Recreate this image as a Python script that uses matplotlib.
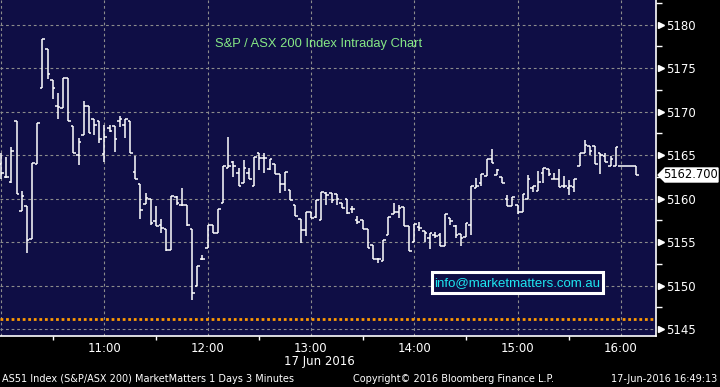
import numpy as np
import matplotlib
matplotlib.use('Agg')
import matplotlib.pyplot as plt
from matplotlib.patches import Polygon, Rectangle

# 3-minute OHLC bars for AS51, 17 Jun 2016, starting 10:00
opens = [5164.0, 5162.5, 5161.9, 5168.9, 5158.6, 5159.2, 5155.4, 5164.0, 5172.7, 5177.2,
         5173.6, 5170.7, 5170.4, 5173.9, 5168.3, 5165.0, 5167.3, 5170.6, 5169.2, 5168.9,
         5165.1, 5168.1, 5168.4, 5168.9, 5168.5, 5168.9, 5163.1, 5161.7, 5159.4, 5159.9,
         5157.4, 5157.0, 5156.5, 5154.1, 5160.2, 5159.3, 5159.3, 5156.5, 5149.9, 5153.0,
         5154.3, 5157.0, 5156.1, 5159.5, 5163.5, 5164.2, 5162.9, 5161.8, 5162.9, 5161.4,
         5165.2, 5164.7, 5163.4, 5164.0, 5162.8, 5161.7, 5161.0, 5159.3, 5157.6, 5156.4,
         5158.5, 5157.9, 5157.5, 5160.6, 5160.6, 5160.5, 5159.5, 5159.9, 5158.8, 5157.5,
         5157.5, 5156.5, 5154.7, 5153.0, 5152.8, 5155.8, 5158.2, 5158.5, 5159.0, 5156.9,
         5155.0, 5156.7, 5156.3, 5155.5, 5155.8, 5155.8, 5154.6, 5157.8, 5156.9, 5155.9,
         5155.6, 5157.0, 5161.2, 5161.8, 5162.6, 5164.5, 5162.7, 5162.5, 5159.9, 5159.1,
         5159.3, 5158.5, 5160.0, 5161.2, 5160.9, 5163.0, 5163.4, 5162.2, 5162.2, 5161.4,
         5161.2, 5161.3, 5163.8, 5165.2, 5166.0, 5166.0, 5165.2, 5164.9, 5163.7, 5163.7,
         5163.7, 5163.7, 5163.7, 5163.7]
highs = [5165.2, 5164.8, 5165.9, 5168.9, 5160.9, 5159.2, 5164.1, 5168.7, 5178.3, 5177.2,
         5173.6, 5172.2, 5173.9, 5173.9, 5168.3, 5167.0, 5171.2, 5170.6, 5169.2, 5168.9,
         5168.5, 5168.5, 5168.4, 5169.5, 5169.2, 5168.9, 5164.9, 5161.7, 5160.6, 5159.9,
         5159.1, 5157.7, 5156.5, 5160.3, 5160.3, 5161.2, 5159.3, 5156.5, 5152.3, 5153.5,
         5157.0, 5157.0, 5158.8, 5163.7, 5167.1, 5164.3, 5163.5, 5164.4, 5163.5, 5164.8,
         5165.2, 5165.2, 5164.5, 5164.0, 5162.8, 5163.1, 5161.0, 5159.3, 5157.6, 5158.5,
         5158.5, 5159.8, 5160.8, 5160.8, 5160.6, 5160.5, 5159.5, 5160.0, 5159.2, 5158.0,
         5157.5, 5156.5, 5154.7, 5153.2, 5155.2, 5157.9, 5159.5, 5159.3, 5159.0, 5156.9,
         5157.1, 5157.3, 5156.3, 5156.0, 5156.2, 5156.0, 5158.2, 5157.8, 5157.0, 5155.9,
         5157.2, 5161.4, 5162.4, 5162.8, 5164.5, 5165.7, 5163.4, 5162.5, 5160.4, 5160.2,
         5159.3, 5160.5, 5162.7, 5161.4, 5163.2, 5163.5, 5163.4, 5162.9, 5163.4, 5162.6,
         5162.1, 5162.2, 5165.2, 5166.7, 5166.0, 5166.0, 5165.2, 5165.2, 5164.9, 5165.9,
         5163.7, 5163.7, 5163.7, 5163.7]
lows = [5162.2, 5162.4, 5161.8, 5160.5, 5158.6, 5153.8, 5155.4, 5164.0, 5172.7, 5173.8,
        5171.5, 5169.1, 5170.4, 5168.9, 5165.2, 5163.9, 5167.3, 5167.6, 5167.3, 5166.4,
        5164.2, 5167.7, 5165.4, 5168.2, 5167.0, 5165.2, 5162.3, 5157.7, 5159.4, 5157.0,
        5156.9, 5156.0, 5154.0, 5154.1, 5159.3, 5159.1, 5156.9, 5148.3, 5149.9, 5152.9,
        5154.3, 5156.1, 5156.1, 5159.5, 5163.5, 5162.5, 5161.4, 5161.8, 5162.2, 5161.4,
        5163.3, 5163.0, 5163.3, 5162.8, 5160.7, 5160.9, 5159.8, 5158.0, 5154.9, 5155.7,
        5157.8, 5157.8, 5157.5, 5159.3, 5159.5, 5159.3, 5158.9, 5158.2, 5158.3, 5157.1,
        5156.5, 5154.3, 5153.0, 5152.6, 5152.8, 5155.8, 5158.2, 5157.8, 5156.9, 5154.0,
        5155.0, 5156.3, 5155.0, 5154.2, 5155.5, 5154.6, 5154.6, 5157.0, 5155.5, 5154.5,
        5155.6, 5155.8, 5161.2, 5161.4, 5162.6, 5164.1, 5162.7, 5161.8, 5159.1, 5159.1,
        5158.2, 5158.5, 5160.0, 5160.8, 5160.9, 5161.8, 5162.6, 5162.2, 5161.3, 5161.2,
        5160.4, 5160.8, 5163.8, 5165.2, 5165.0, 5164.0, 5162.8, 5164.2, 5163.7, 5163.7,
        5163.7, 5163.7, 5163.7, 5162.7]
closes = [5163.0, 5162.5, 5165.5, 5160.5, 5160.3, 5155.2, 5164.1, 5168.7, 5178.3, 5174.3,
          5172.7, 5170.5, 5173.9, 5168.9, 5165.2, 5166.5, 5170.6, 5167.6, 5168.5, 5166.9,
          5167.1, 5167.8, 5166.9, 5169.2, 5169.2, 5165.2, 5162.3, 5158.7, 5160.1, 5157.2,
          5156.9, 5156.6, 5154.1, 5160.3, 5159.5, 5159.3, 5157.0, 5149.1, 5152.3, 5153.1,
          5157.0, 5156.1, 5158.8, 5163.7, 5163.8, 5163.8, 5161.4, 5163.5, 5162.2, 5164.8,
          5164.7, 5164.7, 5164.5, 5162.8, 5161.7, 5163.1, 5159.8, 5158.0, 5156.4, 5158.5,
          5157.8, 5159.8, 5160.8, 5160.4, 5159.8, 5159.9, 5158.9, 5158.3, 5158.8, 5157.3,
          5156.5, 5154.3, 5153.0, 5153.1, 5155.2, 5157.9, 5158.5, 5158.9, 5156.9, 5154.0,
          5157.1, 5156.6, 5156.0, 5156.0, 5155.7, 5154.6, 5158.2, 5157.4, 5155.8, 5155.5,
          5157.2, 5161.4, 5161.4, 5162.8, 5164.5, 5164.1, 5163.3, 5161.8, 5159.1, 5160.2,
          5158.5, 5160.5, 5162.2, 5161.4, 5161.9, 5163.5, 5162.8, 5162.2, 5161.3, 5161.4,
          5161.5, 5162.2, 5165.2, 5166.2, 5165.5, 5164.0, 5165.0, 5164.2, 5164.5, 5165.9,
          5163.7, 5163.7, 5163.7, 5162.7]

hour_labels = ['', '11:00', '12:00', '13:00', '14:00', '15:00', '16:00']
price_ticks = [5145, 5150, 5155, 5160, 5165, 5170, 5175, 5180]
last_price = 5162.700
ref_level = 5146.15

navy = '#0f0e45'
minutes = np.arange(len(closes)) * 3

fig = plt.figure(figsize=(7.2, 3.87), dpi=100, facecolor='black')
ax = fig.add_axes([0.0, 1 - 336 / 387, 656 / 720, 336 / 387])
ax.set_facecolor(navy)

# grid
for y in price_ticks:
    ax.axhline(y, color='#8c8c8c', lw=0.8, ls=(0, (2.5, 2.5)), zorder=1)
for m in range(0, 361, 60):
    ax.axvline(m, color='#8c8c8c', lw=0.8, ls=(0, (2.5, 2.5)), zorder=1)

ax.axhline(ref_level, color='#ff9a00', lw=2, ls=(0, (1, 1)), zorder=2)

# OHLC bars
ax.vlines(minutes, lows, highs, color='white', lw=1.1, zorder=3)
ax.hlines(opens, minutes - 1.5, minutes, color='white', lw=1.1, zorder=3)
ax.hlines(closes, minutes, minutes + 1.5, color='white', lw=1.1, zorder=3)

ax.set_xlim(-0.6, 380.4)
ax.set_ylim(5144.2, 5182.84)

for s in ['top', 'left']:
    ax.spines[s].set_visible(False)
for s in ['right', 'bottom']:
    ax.spines[s].set_color('white')
    ax.spines[s].set_linewidth(1.2)

ax.set_xticks(range(0, 361, 60))
ax.set_xticklabels(hour_labels)
ax.set_xticks(range(30, 381, 60), minor=True)
ax.tick_params(axis='x', which='major', length=0, pad=4, colors='white', labelsize=8.5)
ax.tick_params(axis='x', which='minor', length=3, width=1, colors='white')

ax.yaxis.tick_right()
ax.set_yticks(price_ticks)
ax.set_yticks(np.arange(5147.5, 5183, 5), minor=True)
ax.tick_params(axis='y', which='major', length=0, pad=7, colors='white', labelsize=8.5)
ax.tick_params(axis='y', which='minor', length=4, width=1, colors='white')
ax.plot([1 + 4.5 / 656] * len(price_ticks), price_ticks, ls='none', marker='>', ms=5,
        color='white', transform=ax.get_yaxis_transform(), clip_on=False)

# last price flag
px = lambda x: x / 720
py = lambda y: 1 - y / 387
flag = Polygon([(px(658), py(175)), (px(665), py(168)), (px(718), py(168)),
                (px(718), py(182)), (px(665), py(182))],
               closed=True, fc='white', ec='white', transform=fig.transFigure)
fig.add_artist(flag)
fig.text(px(691), py(175), f'{last_price:.3f}', color='black', fontsize=8.3,
         ha='center', va='center')

# title and info box
ax.text(0.5 * (215 + 423) / 656, 1 - 44.3 / 336, 'S&P / ASX 200 Index Intraday Chart',
        transform=ax.transAxes, color='#86e886', fontsize=9.3,
        family='Liberation Sans', ha='center', va='center')
box = Rectangle((px(432), py(293.3)), px(603) - px(432), py(271.7) - py(293.3),
                fc=navy, ec='white', lw=2.2, transform=fig.transFigure, zorder=5)
fig.add_artist(box)
fig.text(px(517.5), py(283), 'info@marketmatters.com.au', color='#1ee6f0',
         fontsize=9.5, family='Liberation Sans', ha='center', va='center', zorder=6)

# footer
fig.text(px(319), py(361.7), '17 Jun 2016', color='white', fontsize=8.5, ha='center', va='center')
fig.text(px(2), py(379.3), 'AS51 Index (S&P/ASX 200) MarketMatters 1 Days 3 Minutes',
         color='white', fontsize=7, ha='left', va='center')
fig.text(px(353), py(379.3), 'Copyright\u00a9 2016 Bloomberg Finance L.P.',
         color='white', fontsize=7, ha='left', va='center')
fig.text(px(717), py(379.3), '17-Jun-2016 16:49:13', color='white', fontsize=7,
         ha='right', va='center')

plt.savefig('out.png', dpi=100, facecolor='black')
plt.close()
